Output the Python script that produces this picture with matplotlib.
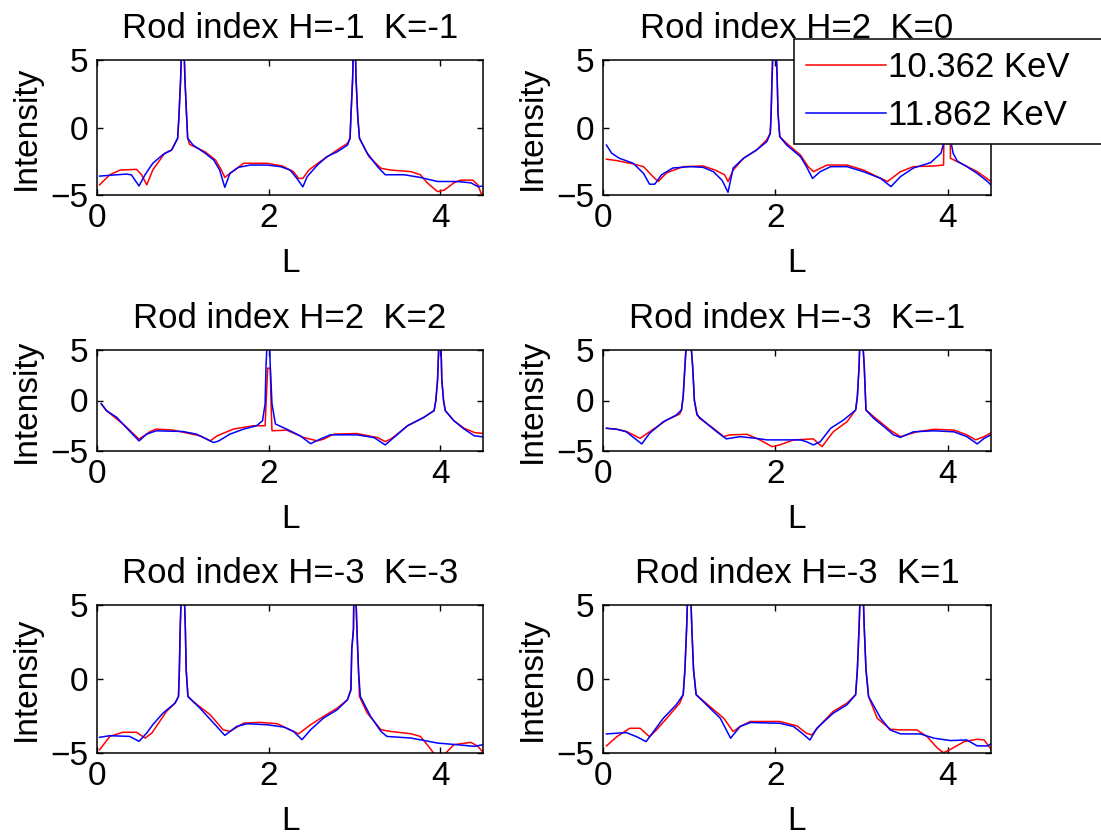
import numpy as np
import matplotlib
matplotlib.use("Agg")
import matplotlib.pyplot as plt

plt.rcParams['font.family'] = ['Liberation Sans', 'DejaVu Sans']

titles = ['Rod index H=-1  K=-1', 'Rod index H=2  K=0',
          'Rod index H=2  K=2', 'Rod index H=-3  K=-1',
          'Rod index H=-3  K=-3', 'Rod index H=-3  K=1']
series_labels = ['10.362 KeV', '11.862 KeV']
x_ticks = [0, 2, 4]
y_ticks = [-5, 0, 5]

# (L, Intensity) pairs; peaks run off the top of the axes
p1_red = [(0.03,-4.25),(0.15,-3.5),(0.27,-3.15),(0.46,-3.1),(0.52,-3.5),(0.58,-4.25),(0.65,-3.15),(0.79,-1.9),(0.87,-1.67),(0.94,-0.8),(0.955,0.8),(0.975,3.6),(1.0,9),(1.025,3.6),(1.045,0.8),(1.057,-0.8),(1.08,-1.25),(1.26,-1.8),(1.38,-2.4),(1.45,-3.15),(1.49,-3.7),(1.55,-3.4),(1.71,-2.65),(1.98,-2.65),(2.16,-2.85),(2.29,-3.27),(2.35,-3.77),(2.40,-3.77),(2.47,-3.15),(2.60,-2.53),(2.80,-1.67),(2.92,-1.17),(2.95,-0.8),(2.96,0.8),(2.98,3.6),(3.0,9),(3.02,3.6),(3.04,0.8),(3.06,-0.8),(3.17,-2.16),(3.31,-3.02),(3.42,-3.15),(3.66,-3.27),(3.77,-3.5),(3.85,-4.1),(3.97,-4.75),(4.05,-4.63),(4.16,-4.1),(4.24,-3.9),(4.38,-3.9),(4.44,-4.25),(4.48,-4.9),(4.51,-5.1)]
p1_blue = [(0.03,-3.6),(0.34,-3.45),(0.40,-3.5),(0.49,-4.33),(0.56,-3.5),(0.65,-2.65),(0.77,-2.0),(0.87,-1.67),(0.94,-0.8),(0.955,0.8),(0.975,3.6),(1.0,9),(1.025,3.6),(1.045,0.8),(1.057,-0.8),(1.12,-1.3),(1.26,-1.9),(1.36,-2.4),(1.43,-3.15),(1.49,-4.43),(1.55,-3.4),(1.65,-2.95),(1.79,-2.78),(1.98,-2.78),(2.14,-2.9),(2.25,-3.15),(2.33,-3.77),(2.40,-4.4),(2.45,-3.64),(2.57,-2.78),(2.68,-2.16),(2.80,-1.8),(2.92,-1.3),(2.95,-0.8),(2.96,0.8),(2.98,3.6),(3.0,9),(3.02,3.6),(3.04,0.8),(3.06,-0.8),(3.15,-1.9),(3.27,-2.9),(3.36,-3.5),(3.58,-3.5),(3.77,-3.7),(3.97,-4.0),(4.20,-4.0),(4.36,-4.1),(4.44,-4.38),(4.51,-4.33)]

p2_red = [(0.04,-2.35),(0.16,-2.45),(0.35,-2.7),(0.47,-2.9),(0.58,-3.64),(0.64,-4.0),(0.74,-3.35),(0.93,-2.9),(1.16,-2.85),(1.30,-3.15),(1.41,-3.5),(1.45,-4.0),(1.51,-3.15),(1.63,-2.28),(1.78,-1.67),(1.90,-0.9),(1.94,-0.43),(1.95,1.05),(1.96,3.64),(1.99,9),(2.02,3.64),(2.03,1.05),(2.05,-0.68),(2.13,-1.17),(2.29,-2.04),(2.38,-2.9),(2.44,-3.27),(2.60,-2.78),(2.83,-2.78),(3.02,-3.15),(3.18,-3.64),(3.30,-4.0),(3.45,-3.27),(3.60,-2.9),(3.84,-2.85),(3.95,-2.78),(3.96,3.0),(3.98,9),(4.02,3.0),(4.03,-2.28),(4.15,-2.65),(4.34,-3.27),(4.48,-3.9),(4.52,-4.1)]
p2_blue = [(0.04,-1.3),(0.10,-1.9),(0.19,-2.28),(0.35,-2.65),(0.47,-3.4),(0.54,-4.2),(0.60,-4.2),(0.68,-3.5),(0.81,-3.0),(1.01,-2.9),(1.16,-2.95),(1.28,-3.27),(1.38,-3.9),(1.45,-4.8),(1.51,-3.0),(1.63,-2.28),(1.78,-1.67),(1.90,-1.05),(1.94,-0.43),(1.95,1.05),(1.96,3.64),(1.99,9),(2.02,3.64),(2.03,1.05),(2.05,-0.68),(2.13,-1.3),(2.29,-2.16),(2.36,-2.9),(2.43,-3.77),(2.52,-3.27),(2.64,-2.9),(2.83,-2.9),(3.02,-3.27),(3.22,-3.77),(3.34,-4.38),(3.45,-3.64),(3.60,-3.0),(3.80,-2.6),(3.92,-1.9),(3.95,-1.17),(3.97,3.0),(4.0,9),(4.03,3.0),(4.04,-1.2),(4.06,-1.9),(4.11,-2.5),(4.22,-2.9),(4.34,-3.4),(4.46,-4.0),(4.52,-4.4)]

p3_red = [(0.05,-0.33),(0.11,-1.0),(0.23,-1.83),(0.34,-2.6),(0.49,-3.83),(0.62,-3.07),(0.69,-2.83),(0.89,-2.93),(1.20,-3.5),(1.32,-4.0),(1.40,-3.5),(1.59,-2.83),(1.82,-2.5),(1.92,-2.5),(1.96,-2.5),(1.97,-0.5),(1.99,3.2),(2.02,3.2),(2.03,-0.5),(2.04,-3.0),(2.21,-2.93),(2.41,-3.67),(2.57,-4.0),(2.64,-3.83),(2.76,-3.33),(3.03,-3.27),(3.27,-3.67),(3.36,-4.07),(3.42,-3.83),(3.46,-3.6),(3.62,-2.5),(3.81,-1.67),(3.93,-1.0),(3.95,0.0),(3.97,2.0),(4.0,9),(4.02,2.0),(4.04,0.0),(4.06,-1.0),(4.16,-2.0),(4.28,-2.75),(4.40,-3.17),(4.50,-3.27)]
p3_blue = [(0.05,-0.33),(0.11,-1.0),(0.23,-1.67),(0.34,-2.67),(0.49,-4.0),(0.58,-3.33),(0.69,-3.0),(1.00,-3.07),(1.16,-3.33),(1.28,-3.83),(1.36,-4.17),(1.42,-4.0),(1.55,-3.33),(1.71,-2.83),(1.86,-2.5),(1.93,-2.0),(1.96,-0.33),(1.97,3.33),(2.0,9),(2.02,3.33),(2.04,-0.33),(2.08,-2.33),(2.21,-2.83),(2.37,-3.5),(2.49,-4.27),(2.60,-3.83),(2.72,-3.4),(3.03,-3.4),(3.23,-3.67),(3.36,-4.4),(3.46,-3.67),(3.62,-2.5),(3.81,-1.67),(3.93,-1.0),(3.95,0.0),(3.97,2.0),(4.0,9),(4.02,2.0),(4.04,0.0),(4.06,-1.0),(4.16,-2.0),(4.28,-2.83),(4.40,-3.5),(4.50,-3.6)]

p4_red = [(0.04,-2.75),(0.16,-2.85),(0.27,-3.05),(0.43,-3.75),(0.54,-3.1),(0.74,-1.93),(0.89,-1.34),(0.91,-0.94),(0.93,0.38),(0.95,3.35),(0.99,9),(1.04,3.35),(1.06,0.0),(1.09,-1.3),(1.12,-1.77),(1.28,-2.75),(1.40,-3.58),(1.47,-3.4),(1.67,-3.35),(1.82,-3.9),(1.96,-4.57),(2.05,-4.4),(2.21,-3.9),(2.44,-3.8),(2.54,-4.57),(2.67,-3.1),(2.83,-2.1),(2.93,-0.94),(2.95,0.38),(2.97,3.35),(2.99,9),(3.03,3.35),(3.05,-0.94),(3.14,-1.6),(3.33,-2.93),(3.45,-3.58),(3.64,-3.1),(3.84,-2.85),(4.07,-2.93),(4.22,-3.4),(4.32,-3.9),(4.42,-3.58),(4.52,-3.1)]
p4_blue = [(0.04,-2.75),(0.16,-2.85),(0.27,-3.1),(0.45,-4.3),(0.54,-3.25),(0.70,-2.1),(0.85,-1.44),(0.91,-0.94),(0.93,0.38),(0.95,3.35),(0.99,9),(1.04,3.35),(1.06,0.0),(1.09,-1.44),(1.20,-2.26),(1.32,-3.1),(1.43,-3.8),(1.59,-3.58),(1.78,-3.75),(1.90,-3.9),(2.29,-3.9),(2.36,-4.08),(2.44,-4.4),(2.52,-4.08),(2.64,-2.75),(2.79,-1.93),(2.93,-0.94),(2.95,0.38),(2.97,3.35),(2.99,9),(3.03,3.35),(3.05,-0.94),(3.14,-1.77),(3.26,-2.6),(3.37,-3.4),(3.45,-3.65),(3.60,-3.1),(3.84,-3.0),(4.07,-3.1),(4.22,-3.58),(4.34,-4.3),(4.42,-3.75),(4.50,-3.4)]

p5_red = [(0.03,-4.78),(0.15,-3.88),(0.30,-3.6),(0.46,-3.6),(0.56,-3.99),(0.64,-3.65),(0.81,-2.19),(0.91,-1.63),(0.95,-1.18),(0.96,0.6),(0.97,3.4),(1.0,9),(1.03,3.4),(1.04,0.6),(1.06,-1.18),(1.12,-1.52),(1.32,-2.42),(1.47,-3.43),(1.55,-3.54),(1.71,-2.98),(1.90,-2.93),(2.10,-3.02),(2.25,-3.43),(2.35,-3.7),(2.49,-3.09),(2.64,-2.53),(2.80,-1.97),(2.92,-1.4),(2.96,-0.73),(2.97,2.0),(2.99,3.4),(3.0,9),(3.03,3.4),(3.04,1.85),(3.06,-1.18),(3.15,-2.3),(3.31,-3.43),(3.42,-3.54),(3.66,-3.7),(3.77,-3.88),(3.85,-4.44),(3.93,-5.05),(4.05,-5.1),(4.16,-4.44),(4.36,-4.28),(4.44,-4.55),(4.50,-4.95)]
p5_blue = [(0.03,-3.94),(0.15,-3.83),(0.38,-3.88),(0.49,-4.21),(0.58,-3.65),(0.65,-3.09),(0.77,-2.3),(0.91,-1.63),(0.95,-1.18),(0.96,0.6),(0.97,3.4),(1.0,9),(1.03,3.4),(1.04,0.6),(1.06,-1.18),(1.20,-1.97),(1.36,-2.98),(1.49,-3.81),(1.63,-3.2),(1.75,-3.02),(1.98,-3.09),(2.18,-3.25),(2.29,-3.54),(2.39,-4.1),(2.49,-3.43),(2.64,-2.64),(2.80,-2.08),(2.92,-1.4),(2.96,-0.73),(2.97,2.0),(2.99,3.4),(3.0,9),(3.03,3.4),(3.05,0.4),(3.07,-1.18),(3.19,-2.53),(3.31,-3.54),(3.38,-3.88),(3.66,-3.99),(3.81,-4.15),(3.97,-4.33),(4.20,-4.44),(4.40,-4.55),(4.50,-4.44)]

p6_red = [(0.04,-4.52),(0.16,-3.9),(0.31,-3.33),(0.43,-3.33),(0.54,-3.9),(0.62,-3.44),(0.74,-2.65),(0.89,-1.63),(0.93,-1.06),(0.95,0.63),(0.97,3.46),(1.0,9),(1.03,3.46),(1.05,0.63),(1.08,-1.06),(1.24,-1.86),(1.40,-2.65),(1.51,-3.55),(1.59,-3.21),(1.71,-2.87),(2.05,-2.87),(2.25,-3.17),(2.36,-3.67),(2.42,-3.78),(2.52,-3.1),(2.67,-2.19),(2.83,-1.63),(2.93,-1.06),(2.95,0.63),(2.97,3.46),(3.0,9),(3.03,3.46),(3.05,0.63),(3.08,-1.18),(3.18,-2.65),(3.33,-3.39),(3.45,-3.44),(3.64,-3.44),(3.76,-3.9),(3.88,-4.68),(3.95,-4.98),(4.03,-4.75),(4.19,-4.23),(4.34,-4.07),(4.42,-4.12),(4.52,-4.9)]
p6_blue = [(0.04,-3.71),(0.27,-3.62),(0.39,-3.9),(0.50,-4.23),(0.60,-3.44),(0.70,-2.65),(0.85,-1.74),(0.93,-1.06),(0.95,0.63),(0.97,3.46),(1.0,9),(1.03,3.46),(1.05,0.63),(1.08,-1.06),(1.20,-1.74),(1.36,-2.65),(1.48,-4.0),(1.59,-3.21),(1.71,-2.94),(2.05,-2.99),(2.21,-3.21),(2.31,-3.67),(2.40,-4.12),(2.48,-3.33),(2.67,-2.31),(2.83,-1.74),(2.93,-1.06),(2.95,0.63),(2.97,3.46),(3.0,9),(3.03,3.46),(3.05,0.63),(3.08,-1.18),(3.22,-2.65),(3.33,-3.44),(3.45,-3.71),(3.68,-3.71),(3.84,-4.0),(4.03,-4.16),(4.22,-4.12),(4.34,-4.52),(4.46,-4.52),(4.52,-4.3)]

panels = [(p1_red, p1_blue), (p2_red, p2_blue), (p3_red, p3_blue),
          (p4_red, p4_blue), (p5_red, p5_blue), (p6_red, p6_blue)]

W, H = 1101, 839
fig = plt.figure(figsize=(W / 100, H / 100), dpi=100)

# axes boxes in pixels: (left, right) and (top, bottom)
col_x = [(97, 483), (603, 991)]
row_y = [(60, 195), (350, 451), (605, 753)]

FS = 24
axes = []
for i in range(6):
    r, c = divmod(i, 2)
    x0, x1 = col_x[c]
    y0, y1 = row_y[r]
    ax = fig.add_axes([x0 / W, 1 - y1 / H, (x1 - x0) / W, (y1 - y0) / H])
    red, blue = panels[i]
    rl, ri = np.array(red).T
    bl, bi = np.array(blue).T
    ax.plot(rl, ri, color=(1, 0, 0), lw=1.1, label=series_labels[0])
    ax.plot(bl, bi, color=(0, 0, 1), lw=1.1, label=series_labels[1])
    ax.set_xlim(0, 4.5)
    ax.set_ylim(-5, 5)
    ax.set_xticks(x_ticks)
    ax.set_yticks(y_ticks)
    ax.tick_params(direction='in', top=True, right=True, length=4, width=1,
                   labelsize=FS, pad=6)
    for s in ax.spines.values():
        s.set_linewidth(1.1)
    ax.set_title(titles[i], fontsize=FS + 1, pad=16)
    ax.set_xlabel('L', fontsize=FS, labelpad=10)
    ax.set_ylabel('Intensity', fontsize=FS, labelpad=6)
    axes.append(ax)

leg = axes[1].legend(loc='upper left',
                     bbox_to_anchor=(794 / W, 1 - 141 / H, 330 / W, 102 / H),
                     bbox_transform=fig.transFigure, mode='expand',
                     fontsize=FS + 1,
                     frameon=True, fancybox=False, framealpha=1,
                     edgecolor='black', handlelength=2.3, handletextpad=0.05,
                     borderaxespad=0, borderpad=0.35, labelspacing=0.42)
leg.get_frame().set_linewidth(1.1)

fig.savefig('out.png', dpi=100)
